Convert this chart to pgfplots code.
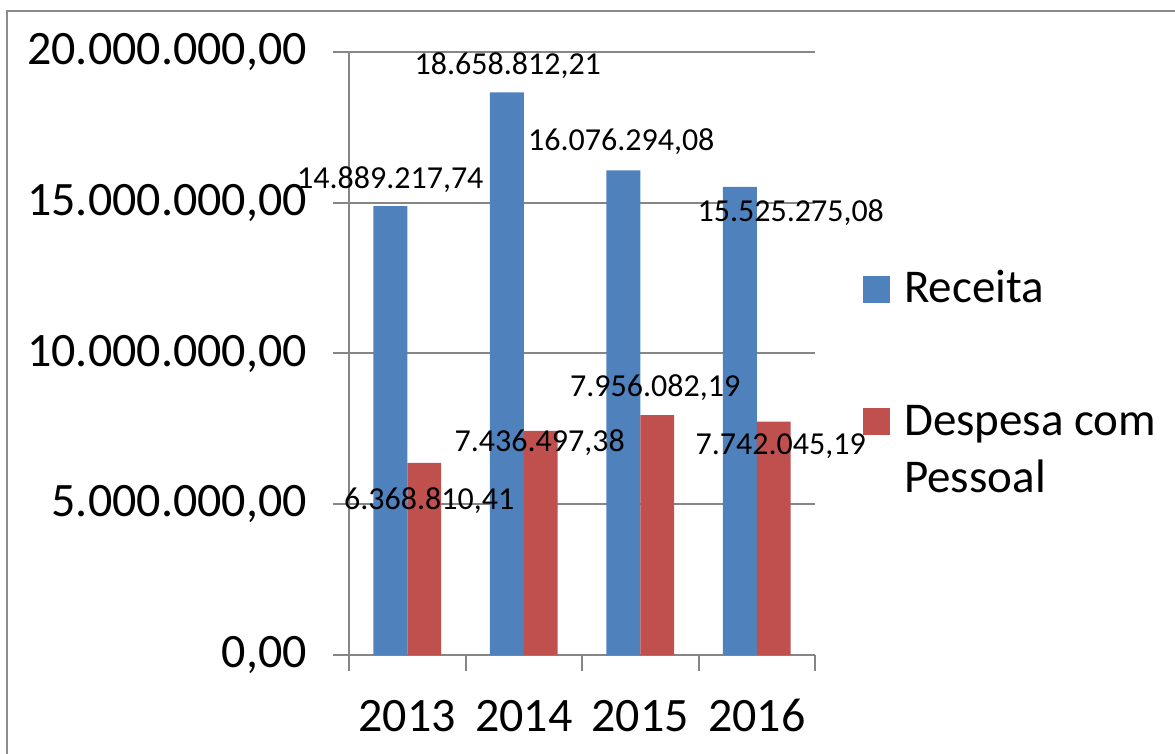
\documentclass[border=0pt]{standalone}
\usepackage{pgfplots}
\pgfplotsset{compat=1.18}
\usepackage{pgfplotstable}
\usepackage{fontspec}
\setmainfont{Carlito}
\definecolor{receita}{HTML}{4F81BD}
\definecolor{despesa}{HTML}{C0504D}
\definecolor{gridc}{HTML}{868686}
\definecolor{framec}{HTML}{8C8C8C}

% x = category, y = value, label = printed text, dx/dy = label offset (pt)
\pgfplotstableread{
x y label dx dy
0 14889217.74 14.889.217,74 -17 18
1 18658812.21 18.658.812,21 -16 18
2 16076294.08 16.076.294,08 -19 20
3 15525275.08 15.525.275,08 34 -35
}\receita
\pgfplotstableread{
x y label dx dy
0 6368810.41 6.368.810,41 22 -47
1 7436497.38 7.436.497,38 16 -21
2 7956082.19 7.956.082,19 15 19
3 7742045.19 7.742.045,19 24 -33
}\despesa

\begin{document}
\begin{tikzpicture}[x=1pt,y=1pt]
\useasboundingbox (0,0) rectangle (1175,753);
\draw[framec, line width=2pt] (7,-20) -- (7,742) -- (1200,742);
\begin{axis}[
    at={(349pt,98pt)}, anchor=south west,
    scale only axis, width=466pt, height=603pt,
    xmin=-0.5, xmax=3.5, ymin=0, ymax=20000000,
    axis x line*=bottom, axis y line*=left,
    axis line style={gridc, line width=2pt, -},
    tick style={gridc, line width=2pt},
    tick align=outside, major tick length=16pt,
    ymajorgrids, grid style={gridc, line width=2pt},
    xtick={-0.5,0.5,1.5,2.5,3.5},
    xticklabels={2013,2014,2015,2016,},
    x tick label as interval,
    xticklabel style={anchor=base, inner sep=0pt, yshift=-60pt, font=\fontsize{48}{58}\selectfont},
    ytick={0,5000000,10000000,15000000,20000000},
    yticklabels={{0,00},{5.000.000,00},{10.000.000,00},{15.000.000,00},{20.000.000,00}},
    yticklabel style={anchor=east, inner sep=0pt, xshift=-26pt, font=\fontsize{48}{58}\selectfont},
    scaled y ticks=false,
    clip=false,
    legend style={at={(axis description cs:1.103,0.638)}, anchor=north west,
        draw=none, fill=none, inner sep=0pt,
        font=\fontsize{47}{57}\selectfont,
        nodes={inner sep=0pt},
        cells={anchor=base west},
        column sep=14pt, row sep=91pt},
    legend image code/.code={\fill[#1] (0pt,0pt) rectangle (27pt,27pt);},
    visualization depends on={\thisrow{dx} \as \dx},
    visualization depends on={\thisrow{dy} \as \dy},
    nodes near coords style={anchor=base, xshift=\dx pt, yshift=\dy pt,
        font=\fontsize{32}{38}\selectfont, black},
]
\addplot[ybar, bar width=0.29, bar shift=-0.145, fill=receita, draw=none,
    nodes near coords, point meta=explicit symbolic]
    table[x=x, y=y, meta=label] {\receita};
\addlegendentry{Receita}
\addplot[ybar, bar width=0.29, bar shift=0.145, fill=despesa, draw=none,
    nodes near coords, point meta=explicit symbolic]
    table[x=x, y=y, meta=label] {\despesa};
\addlegendentry{\begin{tabular}[t]{@{}l@{}}Despesa com\\Pessoal\end{tabular}}
\end{axis}
\end{tikzpicture}
\end{document}
